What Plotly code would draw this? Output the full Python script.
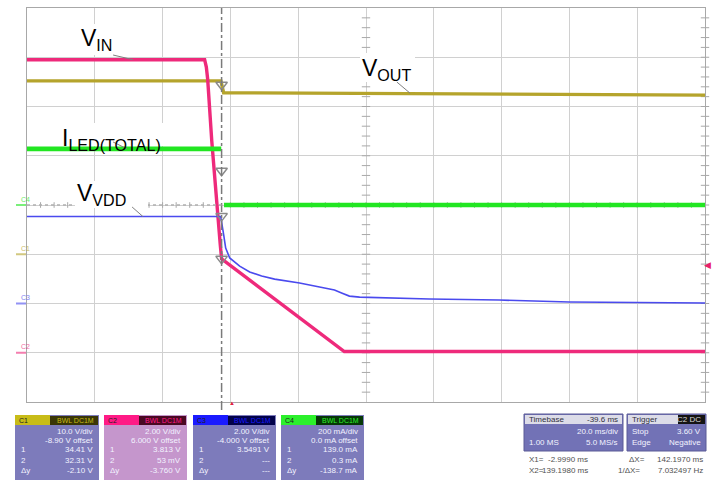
import plotly.graph_objects as go

# ---- screen geometry (page pixels) ----
W, H = 719, 480
PL, PR, PT, PB = 27, 705, 8, 402          # graticule edges

# ---- time base ----
T_LEFT = -60.4      # ms at left edge
T_DIV = 20.0        # ms/div
N_XDIV, N_YDIV = 10, 8

# ---- channel setup: units per division and ground position (divisions above bottom) ----
CH_NAMES = ["C1", "C2", "C3", "C4"]
CH_SCALE = {"C1": 10.0, "C2": 2.0, "C3": 2.0, "C4": 200.0}
CH_GROUND = {"C1": 3.0, "C2": 1.0, "C3": 2.0, "C4": 4.0}
CH_COLOR = {"C1": "#b5a42c", "C2": "#ee2a7b", "C3": "#4a4aee", "C4": "#22e622"}
CH_AXIS = {"C1": "y2", "C2": "y3", "C3": "y4", "C4": "y5"}

# ---- acquired waveforms ----
# C2: V_IN (V)
vin_t = [-60.4, -8.0, -7.5, -7.1, -5.9, -4.4, -3.4, -3.0, 33.2, 139.6]
vin_v = [11.9, 11.9, 11.6, 11.1, 8.6, 5.8, 4.4, 3.813, 0.05, 0.05]
# C1: V_OUT (V)
vout_t = [-60.4, -3.2, -2.4, 60.0, 139.6]
vout_v = [35.2, 35.2, 32.8, 32.6, 32.3]
# C4: I_LED(TOTAL) (mA); the fast edge itself is not captured
iled_t = [-60.4, -3.1, -2.7, -2.3, 139.6]
iled_ma = [228.0, 228.0, None, 0.3, 0.3]
# C3: V_VDD (V)
vdd_t = [-60.4, -3.26, -2.37, -1.79, -0.61, 2.34, 5.28, 8.82, 12.65, 20.0, 25.9,
         30.3, 32.4, 34.7, 37.7, 58.3, 78.9, 99.5, 139.6]
vdd_v = [3.53, 3.53, 2.78, 2.25, 1.85, 1.52, 1.28, 1.12, 0.99, 0.83, 0.67,
         0.55, 0.43, 0.30, 0.26, 0.18, 0.14, 0.06, 0.02]

# ---- cursors and trigger ----
X1, X2 = -2.999, 139.198
X1_VALUE = {"C1": 34.41, "C2": 3.813, "C3": 3.5491, "C4": 139.0}
TRIG_LEVEL = 3.60   # V on C2
TRIG_TIME = 0.0

# ---- readout texts ----
READOUT = {
    "C1": ["10.0 V/div", "-8.90 V offset", "34.41 V", "32.31 V", "-2.10 V"],
    "C2": ["2.00 V/div", "6.000 V offset", "3.813 V", "53 mV", "-3.760 V"],
    "C3": ["2.00 V/div", "-4.000 V offset", "3.5491 V", "---", "---"],
    "C4": ["200 mA/div", "0.0 mA offset", "139.0 mA", "0.3 mA", "-138.7 mA"],
}
TAGS = {"C1": "BWL DC1M", "C2": "BWL DC1M", "C3": "BWL DC1M", "C4": "BWL DC1M"}

FONT = "Arial, Liberation Sans, sans-serif"


def px(x):
    return (x - PL) / (PR - PL)


def py(y):
    return (PB - y) / (PB - PT)


fig = go.Figure()

# graticule minor ticks on the centre lines and right edge
xc = T_LEFT + 5 * T_DIV
xr = T_LEFT + 10 * T_DIV
yt = [k * 0.2 for k in range(1, N_YDIV * 5)]
tick_line = dict(color="#a8a8a8", width=1)
fig.add_trace(go.Scatter(x=[xc] * len(yt), y=yt, mode="markers", cliponaxis=False,
                         marker=dict(symbol="line-ew", size=6, line=tick_line), hoverinfo="skip"))
fig.add_trace(go.Scatter(x=[xr] * len(yt), y=yt, mode="markers", cliponaxis=False,
                         marker=dict(symbol="line-ew", size=6, line=tick_line), hoverinfo="skip"))
xt = [T_LEFT + k * T_DIV / 5 for k in range(1, N_XDIV * 5)]
fig.add_trace(go.Scatter(x=xt, y=[4] * len(xt), mode="markers",
                         marker=dict(symbol="line-ns", size=4, line=tick_line), hoverinfo="skip"))

# waveforms
fig.add_trace(go.Scatter(x=vdd_t, y=vdd_v, yaxis=CH_AXIS["C3"], mode="lines",
                         line=dict(color=CH_COLOR["C3"], width=1.6), name="V_VDD"))
fig.add_trace(go.Scatter(x=iled_t, y=iled_ma, yaxis=CH_AXIS["C4"], mode="lines",
                         connectgaps=False,
                         line=dict(color=CH_COLOR["C4"], width=4.6), name="I_LED"))
fig.add_trace(go.Scatter(x=vout_t, y=vout_v, yaxis=CH_AXIS["C1"], mode="lines",
                         line=dict(color=CH_COLOR["C1"], width=3.4), name="V_OUT"))
fig.add_trace(go.Scatter(x=vin_t, y=vin_v, yaxis=CH_AXIS["C2"], mode="lines",
                         line=dict(color=CH_COLOR["C2"], width=3.4), name="V_IN"))

# cursor X1 crossing markers
for ch in CH_NAMES:
    fig.add_trace(go.Scatter(x=[X1], y=[X1_VALUE[ch]], yaxis=CH_AXIS[ch], mode="markers",
                             marker=dict(symbol="triangle-down-open", size=10, color="#8a8a8a",
                                         line=dict(color="#8a8a8a", width=1.5)),
                             hoverinfo="skip"))

shapes = []
annotations = []

# cursor X1 line
shapes.append(dict(type="line", xref="x", yref="paper", x0=X1, x1=X1, y0=-0.02, y1=1,
                   line=dict(color="#7a7a7a", width=1.5, dash="dashdot")))
# C4 reference trace left of the cursor
shapes.append(dict(type="line", xref="x", yref=CH_AXIS["C4"], x0=T_LEFT, x1=X1, y0=0, y1=0,
                   line=dict(color="#b0b0b0", width=1.5, dash="dot")))

# channel ground markers on the left edge
for ch in CH_NAMES:
    shapes.append(dict(type="line", xref="paper", yref=CH_AXIS[ch], x0=px(16), x1=px(26),
                       y0=0, y1=0, line=dict(color=CH_COLOR[ch], width=2), opacity=0.6))
    annotations.append(dict(text=ch, xref="paper", yref=CH_AXIS[ch], x=px(19), y=0, yshift=6,
                            showarrow=False, font=dict(family=FONT, size=7, color=CH_COLOR[ch]),
                            opacity=0.7))

# trigger level and position markers
annotations.append(dict(text="◀", xref="paper", yref=CH_AXIS["C2"], x=px(713), y=TRIG_LEVEL,
                        showarrow=False, font=dict(size=9, color="#e8206a")))
annotations.append(dict(text="▲", xref="x", yref="paper", x=TRIG_TIME, y=py(409),
                        showarrow=False, font=dict(size=6, color="#e02040")))

# trace labels: text, channel, text corner (px), white box (px),
# leader start (ms, channel units), leader end on the trace (ms, channel units)
LABELS = [
    ("V<sub>IN</sub>", "C2", (77.5, 22), (78, 24, 140, 55), (-35.0, 12.09), (-29.1, 11.9)),
    ("V<sub>OUT</sub>", "C1", (358.5, 52), (360, 53, 415, 82), (48.7, 34.97), (52.6, 32.7)),
    ("I<sub>LED(TOTAL)</sub>", "C4", (58.5, 122), (58, 123, 165, 146), (-35.0, 255.8), (-30.9, 228.0)),
    ("V<sub>VDD</sub>", "C3", (73.5, 177), (75, 181, 148, 208), (-29.4, 3.92), (-26.2, 3.53)),
]
for text, ch, (tx, ty), (bx0, by0, bx1, by1), (t0, v0), (t1, v1) in LABELS:
    shapes.append(dict(type="rect", xref="paper", yref="paper", layer="above",
                       x0=px(bx0), x1=px(bx1), y0=py(by1), y1=py(by0),
                       fillcolor="white", line=dict(width=0)))
    shapes.append(dict(type="line", xref="x", yref=CH_AXIS[ch], layer="above",
                       x0=t0, y0=v0, x1=t1, y1=v1, line=dict(color="#808080", width=1)))
    annotations.append(dict(text=text, xref="paper", yref="paper", x=px(tx), y=py(ty),
                            xanchor="left", yanchor="top", showarrow=False, borderpad=2,
                            font=dict(family=FONT, size=23, color="black")))

# ---- channel readout panels ----
PANEL_X = {"C1": (15, 99), "C2": (104, 187), "C3": (193, 276), "C4": (281, 364)}
HEAD_LIGHT = {"C1": "#c8bc18", "C2": "#ff1a86", "C3": "#1a1aff", "C4": "#2cf02c"}
HEAD_DARK = {"C1": "#3a3606", "C2": "#4a0822", "C3": "#02024a", "C4": "#063806"}
BODY = {"C1": "#7d7bbb", "C2": "#c596cc", "C3": "#7d7bbb", "C4": "#7d7bbb"}
LINE_Y = [431, 440, 450, 460, 471]
LEFT_TAG = ["", "", "1", "2", "Δy"]

for ch in CH_NAMES:
    x0, x1 = PANEL_X[ch]
    shapes.append(dict(type="rect", xref="paper", yref="paper", x0=px(x0), x1=px(x1),
                       y0=py(482), y1=py(415), fillcolor=BODY[ch], line=dict(width=0)))
    shapes.append(dict(type="rect", xref="paper", yref="paper", x0=px(x0), x1=px(x0 + 35),
                       y0=py(425), y1=py(415), fillcolor=HEAD_LIGHT[ch], line=dict(width=0)))
    shapes.append(dict(type="rect", xref="paper", yref="paper", x0=px(x0 + 35), x1=px(x1 - 1),
                       y0=py(425), y1=py(416), fillcolor=HEAD_DARK[ch], line=dict(width=0)))
    annotations.append(dict(text=ch, xref="paper", yref="paper", x=px(x0 + 2), y=py(420),
                            xanchor="left", yanchor="middle", showarrow=False,
                            font=dict(family=FONT, size=7, color="#202020")))
    annotations.append(dict(text=TAGS[ch], xref="paper", yref="paper", x=px(x1 - 3), y=py(420),
                            xanchor="right", yanchor="middle", showarrow=False,
                            font=dict(family=FONT, size=7, color=HEAD_LIGHT[ch])))
    for k, line in enumerate(READOUT[ch]):
        annotations.append(dict(text=line, xref="paper", yref="paper", x=px(x1 - 4),
                                y=py(LINE_Y[k]), xanchor="right", yanchor="middle",
                                showarrow=False,
                                font=dict(family=FONT, size=8, color="#f2f2ff")))
        if LEFT_TAG[k]:
            annotations.append(dict(text=LEFT_TAG[k], xref="paper", yref="paper", x=px(x0 + 4),
                                    y=py(LINE_Y[k]), xanchor="left", yanchor="middle",
                                    showarrow=False,
                                    font=dict(family=FONT, size=8, color="#f2f2ff")))

# timebase and trigger panels
for (x0, x1) in [(524, 623), (627, 706)]:
    shapes.append(dict(type="rect", xref="paper", yref="paper", x0=px(x0), x1=px(x1),
                       y0=py(451), y1=py(414), fillcolor="#7272b6",
                       line=dict(color="#5a5a96", width=1)))
    shapes.append(dict(type="rect", xref="paper", yref="paper", x0=px(x0 + 1), x1=px(x1 - 1),
                       y0=py(424), y1=py(415), fillcolor="#dcdce8", line=dict(width=0)))
shapes.append(dict(type="rect", xref="paper", yref="paper", x0=px(678), x1=px(705),
                   y0=py(424), y1=py(415), fillcolor="#141414", line=dict(width=0)))

PANEL_TEXT = [
    ("Timebase", 527, 419.5, "left", "#303040"),
    ("-39.6 ms", 620, 419.5, "right", "#303040"),
    ("20.0 ms/div", 620, 431, "right", "#f2f2ff"),
    ("1.00 MS", 527, 443, "left", "#f2f2ff"),
    ("5.0 MS/s", 620, 443, "right", "#f2f2ff"),
    ("Trigger", 630, 419.5, "left", "#303040"),
    ("C2 DC", 703, 419.5, "right", "#d8d8d8"),
    ("Stop", 630, 431, "left", "#f2f2ff"),
    ("3.60 V", 703, 431, "right", "#f2f2ff"),
    ("Edge", 630, 443, "left", "#f2f2ff"),
    ("Negative", 703, 443, "right", "#f2f2ff"),
    ("X1=", 527, 459, "left", "#505050"),
    ("%.4f ms" % X1, 590, 459, "right", "#505050"),
    ("ΔX=", 627, 459, "left", "#505050"),
    ("%.4f ms" % (X2 - X1), 705, 459, "right", "#505050"),
    ("X2=", 527, 471, "left", "#505050"),
    ("%.4f ms" % X2, 590, 471, "right", "#505050"),
    ("1/ΔX=", 616, 471, "left", "#505050"),
    ("%.6f Hz" % (1000.0 / (X2 - X1)), 705, 471, "right", "#505050"),
]
for text, x, y, anchor, color in PANEL_TEXT:
    annotations.append(dict(text=text, xref="paper", yref="paper", x=px(x), y=py(y),
                            xanchor=anchor, yanchor="middle", showarrow=False,
                            font=dict(family=FONT, size=8, color=color)))

# ---- axes ----
axis_common = dict(showticklabels=False, ticks="", showgrid=True, gridcolor="#d0d0d0",
                   gridwidth=1, zeroline=False, showline=True, linecolor="#a8a8a8",
                   linewidth=1, mirror=True, fixedrange=True)
layout = dict(
    width=W, height=H,
    margin=dict(l=PL, r=W - PR, t=PT, b=H - PB),
    paper_bgcolor="white", plot_bgcolor="white", showlegend=False,
    xaxis=dict(range=[T_LEFT, T_LEFT + N_XDIV * T_DIV], tick0=T_LEFT, dtick=T_DIV, **axis_common),
    yaxis=dict(range=[0, N_YDIV], tick0=0, dtick=1, **axis_common),
    shapes=shapes, annotations=annotations,
)
for ch in CH_NAMES:
    key = "yaxis" + CH_AXIS[ch][1:]
    s, g = CH_SCALE[ch], CH_GROUND[ch]
    layout[key] = dict(overlaying="y", range=[-g * s, (N_YDIV - g) * s], visible=False,
                       fixedrange=True)
fig.update_layout(**layout)

fig.write_html("out.html")
